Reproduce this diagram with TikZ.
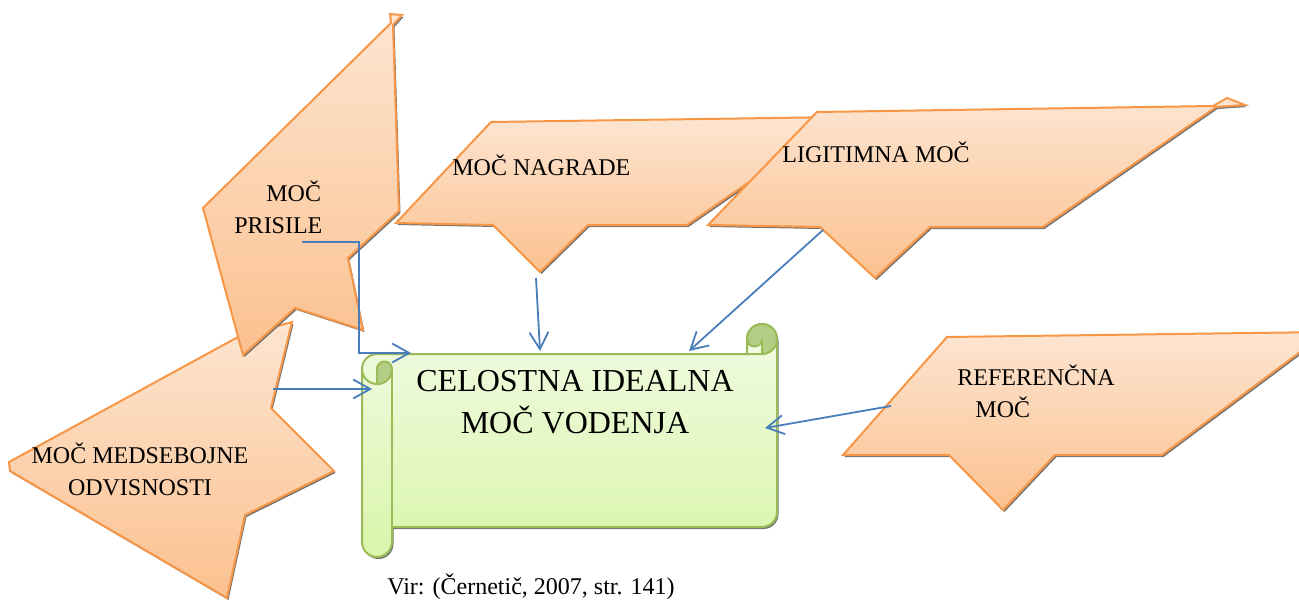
\documentclass[tikz,border=0pt]{standalone}
\usepackage{fontspec}
\setmainfont{Liberation Serif}
\usetikzlibrary{arrows.meta}

\definecolor{peachTop}{HTML}{FDE5D1}
\definecolor{peachBot}{HTML}{FBC18F}
\definecolor{orangeLine}{HTML}{F79646}
\definecolor{greenTop}{HTML}{F1FBE3}
\definecolor{greenBot}{HTML}{D9F5AA}
\definecolor{greenLine}{HTML}{9BBB59}
\definecolor{greenDark}{HTML}{B3CE84}
\definecolor{arrowBlue}{HTML}{4A7EBB}

% outlines of the callout shapes (pixel grid, y pointing down)
\def\medShape{(9,462) -- (238,337) -- (292,322) -- (271,408) -- (334,471) -- (245,515) -- (227,598) -- (10,471) -- cycle}
\def\priShape{(203,208) -- (391,23) -- (390,14) -- (402,15) -- (393,25) -- (399,211) -- (348,258) -- (363,330) -- (295,308) -- (243,355) -- cycle}
\def\nagShape{(491,122) -- (843,117) -- (687,225) -- (588,225) -- (540,272) -- (493,225) -- (396,223) -- cycle}
\def\ligShape{(817,112) -- (1213,106) -- (1227,98) -- (1245,105) -- (1216,107) -- (1043,227) -- (930,227) -- (875,278) -- (820,227) -- (708,225) -- cycle}
\def\refShape{(947,337) -- (1327,332) -- (1162,455) -- (1055,455) -- (1003,510) -- (949,455) -- (843,455) -- cycle}
% outline of the scroll
\def\scrollShape{(362,369) arc[start angle=180,end angle=270,radius=15] -- (747,354) -- (747,339) arc[start angle=180,end angle=360,radius=15] -- (777,512) arc[start angle=0,end angle=90,radius=15] -- (392,527) -- (392,542) arc[start angle=0,end angle=180,radius=15] -- cycle}

\tikzset{
  dropshadow/.style={fill=black!55, draw=none, shift={(1.5,2)}},
  callout/.style={draw=orangeLine, line width=1pt, line join=miter, top color=peachTop, bottom color=peachBot},
  scrollbody/.style={draw=greenLine, line width=1pt, top color=greenTop, bottom color=greenBot},
  scrollline/.style={draw=greenLine, line width=1pt},
  curl/.style={fill=greenDark, draw=greenLine, line width=1pt},
  conn/.style={draw=arrowBlue, line width=0.9pt, -{Straight Barb[length=8.5pt,width=9.5pt]}},
  lbl/.style={inner sep=0pt, anchor=base west, font=\fontsize{12}{14}\selectfont},
  lblc/.style={inner sep=0pt, anchor=base, font=\fontsize{12}{14}\selectfont},
  title/.style={inner sep=0pt, anchor=base, font=\fontsize{16}{19}\selectfont}
}

\begin{document}
\begin{tikzpicture}[x=0.5pt,y=-0.5pt]
\useasboundingbox (0,0) rectangle (1299,599);
\clip (0,0) rectangle (1299,599);

% callout shapes with their shadows
\fill[dropshadow] \medShape;
\path[callout] \medShape;
\fill[dropshadow] \priShape;
\path[callout] \priShape;
\fill[dropshadow] \nagShape;
\path[callout] \nagShape;
\fill[dropshadow] \ligShape;
\path[callout] \ligShape;
\fill[dropshadow] \refShape;
\path[callout] \refShape;

% the scroll
\fill[dropshadow] \scrollShape;
\path[scrollbody] \scrollShape;
% left roll: curl at the top and inner edge
\draw[scrollline] (362,369) arc[start angle=180,end angle=0,radius=15];
\filldraw[curl] (377,384) arc[start angle=90,end angle=0,radius=15] arc[start angle=0,end angle=-180,radius=7.5] -- cycle;
\draw[scrollline] (392,369) -- (392,527);
% right roll: curl above the top edge
\filldraw[curl] (762,339) circle[radius=15];
\filldraw[fill=greenTop, draw=greenLine, line width=1pt] (762,354) -- (762,339) arc[start angle=0,end angle=180,radius=7.5] -- (747,354) -- cycle;

% texts
\node[title] (titleA) at (575,391) {CELOSTNA IDEALNA};
\node[title] (titleB) at (575,433) {MOČ VODENJA};
\node[lbl] (prisileA) at (266,201) {MOČ};
\node[lbl] (prisileB) at (234,233) {PRISILE};
\node[lbl] (nagrade) at (452,175) {MOČ NAGRADE};
\node[lbl] (ligitimna) at (782,162) {LIGITIMNA MOČ};
\node[lbl] (refA) at (957,385) {REFERENČNA};
\node[lbl] (refB) at (975,417) {MOČ};
\node[lblc] (medA) at (140,463) {MOČ MEDSEBOJNE};
\node[lblc] (medB) at (140,495) {ODVISNOSTI};
\node[lbl] (source) at (387,594) {Vir: (Černetič, 2007, str. 141)};

% connector end points
\coordinate (priFrom) at (302,242);
\coordinate (priBend) at (359,353);
\coordinate (priTo) at (411,353);
\coordinate (nagFrom) at (536,278);
\coordinate (nagTo) at (540,351);
\coordinate (ligFrom) at (823,230);
\coordinate (ligTo) at (689,351);
\coordinate (medFrom) at (273,389);
\coordinate (medTo) at (372,389);
\coordinate (refFrom) at (891,406);
\coordinate (refTo) at (765,428);

% connectors
\draw[conn] (priFrom) -| (priBend) -- (priTo);
\draw[conn] (nagFrom) -- (nagTo);
\draw[conn] (ligFrom) -- (ligTo);
\draw[conn] (medFrom) -- (medTo);
\draw[conn] (refFrom) -- (refTo);
\end{tikzpicture}
\end{document}
